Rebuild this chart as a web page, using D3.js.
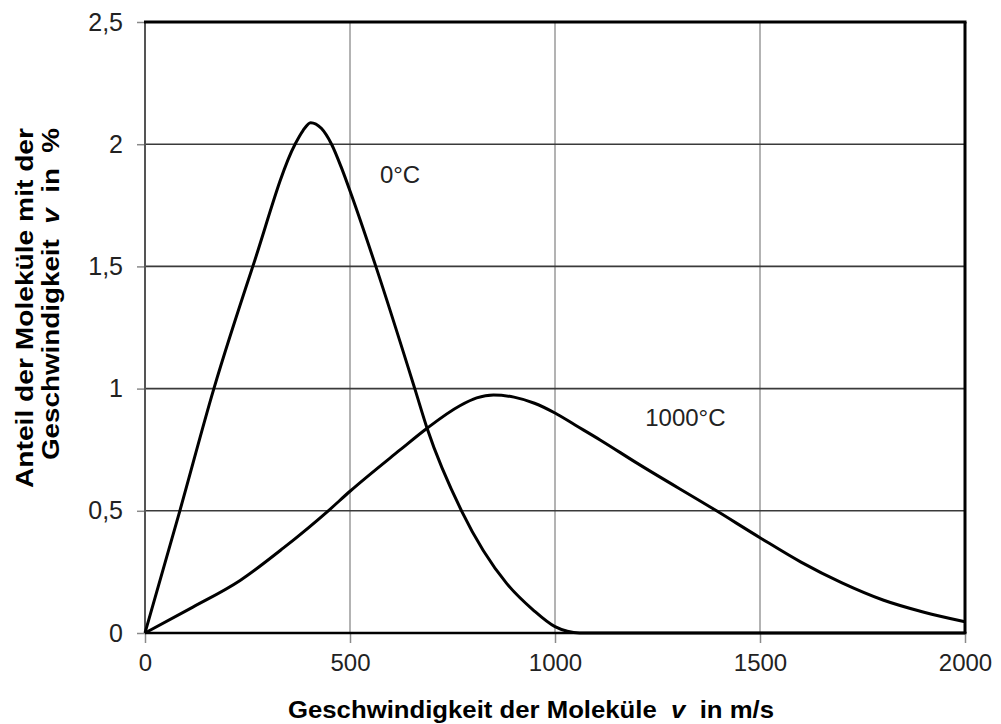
<!DOCTYPE html>
<html>
<head>
<meta charset="utf-8">
<script src="https://cdn.jsdelivr.net/npm/d3@7"></script>
<style>
  html, body { margin: 0; padding: 0; background: #fff; }
  svg text { font-family: "Liberation Sans", Arial, sans-serif; white-space: pre; }
</style>
</head>
<body>
<svg id="chart" width="1001" height="724"></svg>
<script>
// ---- data ----
const speeds0 = [0, 85, 168, 263, 366, 385, 404, 430, 455, 480, 504, 563, 658, 688, 772, 882, 947, 1000, 1030, 1060, 1300, 2000];
const values0 = [0, 0.5, 1.0, 1.5, 2.0, 2.055, 2.088, 2.065, 2.0, 1.9, 1.79, 1.5, 1.0, 0.838, 0.5, 0.203, 0.094, 0.026, 0.007, 0, 0, 0];
const speeds1000 = [0, 110, 232, 337, 447, 500, 622, 688, 768, 809, 850, 900, 950, 1000, 1050, 1110, 1200, 1394, 1500, 1600, 1700, 1800, 1900, 2000];
const values1000 = [0, 0.1, 0.215, 0.347, 0.5, 0.58, 0.749, 0.838, 0.93, 0.962, 0.974, 0.965, 0.94, 0.9, 0.85, 0.79, 0.695, 0.5, 0.39, 0.29, 0.205, 0.135, 0.085, 0.046];
const xTicks = [0, 500, 1000, 1500, 2000];
const xTickLabels = ["0", "500", "1000", "1500", "2000"];
const yTicks = [0, 0.5, 1, 1.5, 2, 2.5];
const yTickLabels = ["0", "0,5", "1", "1,5", "2", "2,5"];
const seriesLabels = ["0°C", "1000°C"];
const labelPos = [[573, 1.84], [1220, 0.845]];

const svg = d3.select("#chart");
const x = d3.scaleLinear().domain([0, 2000]).range([145, 965]);
const y = d3.scaleLinear().domain([0, 2.5]).range([633, 22]);

// vertical grid
svg.append("g").selectAll("line").data(xTicks.slice(1, -1)).join("line")
  .attr("x1", d => x(d)).attr("x2", d => x(d)).attr("y1", y(0)).attr("y2", y(2.5))
  .attr("stroke", "#9a9a9a").attr("stroke-width", 1.5);
// horizontal grid
svg.append("g").selectAll("line").data(yTicks.slice(1, -1)).join("line")
  .attr("x1", x(0)).attr("x2", x(2000)).attr("y1", d => y(d)).attr("y2", d => y(d))
  .attr("stroke", "#3a3a3a").attr("stroke-width", 1.6);

// axes (ticks + labels)
const xAxis = d3.axisBottom(x).tickValues(xTicks).tickFormat((d, i) => xTickLabels[i])
  .tickSizeInner(10).tickSizeOuter(0).tickPadding(11);
const gx = svg.append("g").attr("transform", `translate(0,${y(0)})`).call(xAxis);
gx.select(".domain").remove();
gx.selectAll(".tick line").attr("stroke", "#8a8a8a").attr("stroke-width", 1.5);
gx.selectAll(".tick text").attr("font-size", 24).attr("fill", "#222")
  .attr("font-family", "Liberation Sans, Arial, sans-serif");

const yAxis = d3.axisLeft(y).tickValues(yTicks).tickFormat((d, i) => yTickLabels[i])
  .tickSizeInner(8).tickSizeOuter(0).tickPadding(14);
const gy = svg.append("g").attr("transform", `translate(${x(0)},0)`).call(yAxis);
gy.select(".domain").remove();
gy.selectAll(".tick line").attr("stroke", "#8a8a8a").attr("stroke-width", 1.5);
gy.selectAll(".tick text").attr("font-size", 25).attr("fill", "#222")
  .attr("font-family", "Liberation Sans, Arial, sans-serif");

// frame
svg.append("line").attr("x1", x(0)).attr("x2", x(0)).attr("y1", y(0)).attr("y2", y(2.5))
  .attr("stroke", "#555").attr("stroke-width", 2);
svg.append("line").attr("x1", x(0) - 1).attr("x2", x(2000) + 1.5).attr("y1", y(2.5)).attr("y2", y(2.5))
  .attr("stroke", "#000").attr("stroke-width", 3);
svg.append("line").attr("x1", x(2000)).attr("x2", x(2000)).attr("y1", y(2.5)).attr("y2", y(0))
  .attr("stroke", "#000").attr("stroke-width", 3);

// curves
const line = d3.line().x(d => x(d[0])).y(d => y(d[1])).curve(d3.curveMonotoneX);
const series = [d3.zip(speeds0, values0), d3.zip(speeds1000, values1000)];
svg.append("g").selectAll("path").data(series).join("path")
  .attr("d", line).attr("fill", "none").attr("stroke", "#000").attr("stroke-width", 3)
  .attr("stroke-linejoin", "round");

// bottom axis line drawn above curves
svg.append("line").attr("x1", x(0)).attr("x2", x(2000) + 1.5).attr("y1", y(0)).attr("y2", y(0))
  .attr("stroke", "#000").attr("stroke-width", 2.5);

// series labels
svg.append("g").selectAll("text").data(seriesLabels).join("text")
  .attr("x", (d, i) => x(labelPos[i][0])).attr("y", (d, i) => y(labelPos[i][1]))
  .attr("font-size", 24).attr("fill", "#222").text(d => d);

// x title
const xt = svg.append("text").attr("x", 531).attr("y", 718).attr("text-anchor", "middle")
  .attr("font-size", 23).attr("font-weight", "bold").attr("fill", "#000")
  .attr("textLength", 486).attr("lengthAdjust", "spacingAndGlyphs");
xt.append("tspan").text("Geschwindigkeit der Moleküle  ");
xt.append("tspan").attr("font-style", "italic").text("v");
xt.append("tspan").text("  in m/s");

// y title
svg.append("text").attr("transform", "translate(33,128) rotate(-90)")
  .attr("text-anchor", "end").attr("font-size", 24).attr("font-weight", "bold").attr("fill", "#000")
  .attr("textLength", 360).attr("lengthAdjust", "spacingAndGlyphs")
  .text("Anteil der Moleküle mit der");
const yt2 = svg.append("text").attr("transform", "translate(59,128) rotate(-90)")
  .attr("text-anchor", "end").attr("font-size", 24).attr("font-weight", "bold").attr("fill", "#000")
  .attr("textLength", 332).attr("lengthAdjust", "spacingAndGlyphs");
yt2.append("tspan").text("Geschwindigkeit  ");
yt2.append("tspan").attr("font-style", "italic").text("v");
yt2.append("tspan").text("  in  %");
</script>
</body>
</html>
